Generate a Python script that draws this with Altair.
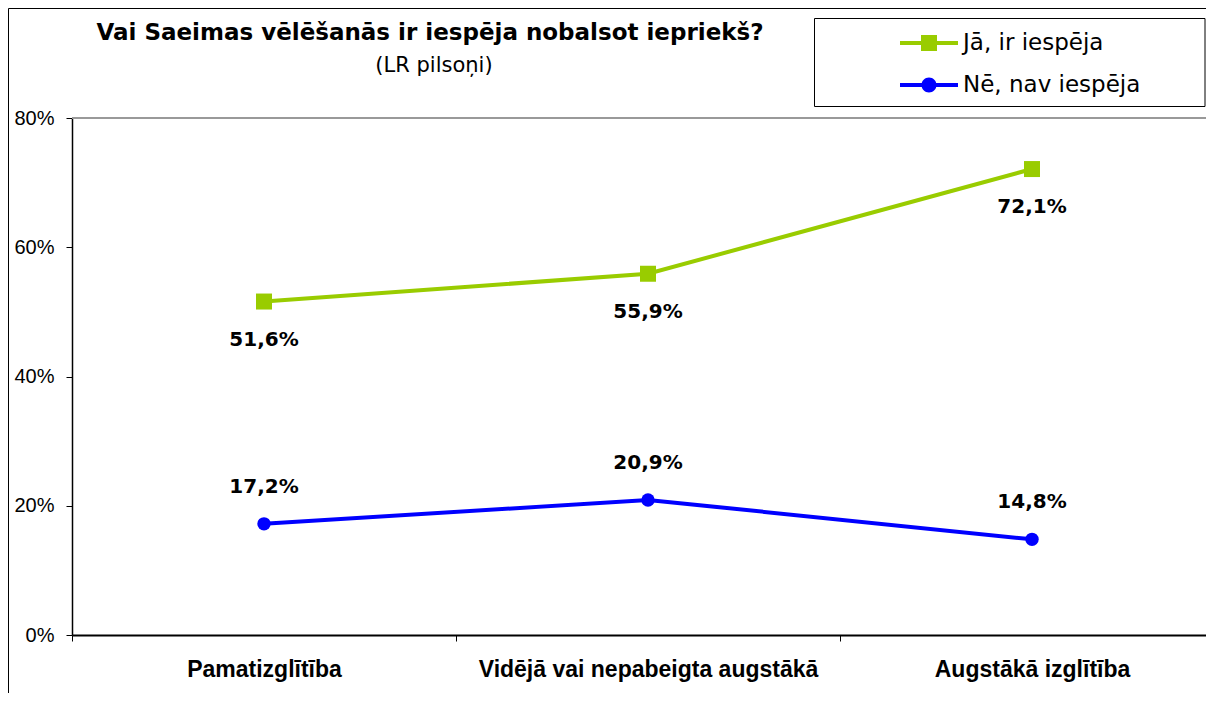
import altair as alt
import pandas as pd

categories = ["Pamatizglītība", "Vidējā vai nepabeigta augstākā", "Augstākā izglītība"]
series = ["Jā, ir iespēja", "Nē, nav iespēja"]
ja_values = [51.6, 55.9, 72.1]
ne_values = [17.2, 20.9, 14.8]
colors = ["#99CC00", "#0000FF"]
marker_shapes = ["square", "circle"]
marker_sizes = [256, 180]
label_dy = [38, -37]
y_ticks = [0, 20, 40, 60, 80]
title_text = "Vai Saeimas vēlēšanās ir iespēja nobalsot iepriekš?"
subtitle_text = "(LR pilsoņi)"

ARIAL = "Liberation Sans"
WIDE = "DejaVu Sans"

rows = []
for s, vals in zip(series, [ja_values, ne_values]):
    for c, v in zip(categories, vals):
        rows.append({"cat": c, "series": s, "value": v,
                     "label": f"{v:.1f}%".replace(".", ",")})
df = pd.DataFrame(rows)
one = pd.DataFrame({"d": [0]})

W, H = 1134, 517
XR = 1152  # x range (plot runs on past the right edge of the page)

x_enc = alt.X("cat:N", sort=categories,
              scale=alt.Scale(type="band", paddingInner=0, paddingOuter=0, range=[0, XR]),
              axis=alt.Axis(title=None, labelAngle=0, tickBand="extent", labelLimit=600,
                            labelFont=ARIAL, labelFontSize=23, labelFontWeight="bold",
                            labelColor="black", labelPadding=17, tickSize=6,
                            tickColor="black", domainColor="black", domainWidth=2,
                            grid=False))
y_enc = alt.Y("value:Q", scale=alt.Scale(domain=[0, 80], nice=False),
              axis=alt.Axis(title=None, values=y_ticks, labelExpr="datum.value + '%'",
                            labelFont=ARIAL, labelFontSize=20, labelColor="black",
                            labelPadding=12, tickSize=6, tickColor="black",
                            domainColor="black", domainWidth=1.5, grid=False))

sq_path = ("M-1.45,-0.1H-0.3V0.1H-1.45Z M0.3,-0.1H1.45V0.1H0.3Z "
           "M-0.4,-0.4H0.4V0.4H-0.4Z")
ci_path = ("M-1.45,-0.1H-0.3V0.1H-1.45Z M0.3,-0.1H1.45V0.1H0.3Z "
           "M-0.375,0A0.375,0.375 0 1,1 0.375,0A0.375,0.375 0 1,1 -0.375,0Z")

base = alt.Chart(df)

# decorations
outer_top = alt.Chart(one).mark_rule(color="black", strokeWidth=1).encode(
    x=alt.value(-63.5), x2=alt.value(W), y=alt.value(-109.5))
outer_left = alt.Chart(one).mark_rule(color="black", strokeWidth=1).encode(
    x=alt.value(-63.5), y=alt.value(-109.5), y2=alt.value(H + 58))
top_line = alt.Chart(one).mark_rule(color="#999999", strokeWidth=2).encode(
    y=alt.datum(80))
legend_box = alt.Chart(one).mark_rect(fill="white", stroke="black", strokeWidth=1).encode(
    x=alt.value(742.5), x2=alt.value(W - 1), y=alt.value(-99.5), y2=alt.value(-11.5))
title = alt.Chart(one).mark_text(text=title_text, font=WIDE, fontSize=23,
                                 fontWeight="bold", color="black").encode(
    x=alt.value(358), y=alt.value(-85))
subtitle = alt.Chart(one).mark_text(text=subtitle_text, font=WIDE, fontSize=21,
                                    color="black").encode(
    x=alt.value(362), y=alt.value(-52))

layers = [outer_top, outer_left, top_line, legend_box, title, subtitle]

for i, s in enumerate(series):
    sub = base.transform_filter(alt.datum.series == s)
    layers.append(sub.mark_line(strokeWidth=4, color=colors[i]).encode(x=x_enc, y=y_enc))
    layers.append(sub.mark_point(shape=marker_shapes[i], size=marker_sizes[i],
                                 filled=True, opacity=1, color=colors[i])
                  .encode(x=x_enc, y=y_enc))
    layers.append(sub.mark_text(font=WIDE, fontSize=20, fontWeight="bold",
                                color="black", dy=label_dy[i])
                  .encode(x=x_enc, y=y_enc, text="label:N"))

leg = alt.Legend(orient="none", legendX=837, legendY=-95, padding=0,
                 labelFont=WIDE, labelFontSize=23, labelColor="black", labelLimit=400,
                 labelOffset=14, rowPadding=10, symbolSize=1600,
                 symbolStrokeWidth=0, symbolOpacity=1, title=None)
legend_layer = base.mark_point(filled=True, opacity=0).encode(
    x=x_enc, y=y_enc,
    color=alt.Color("series:N", scale=alt.Scale(domain=series, range=colors), legend=leg),
    shape=alt.Shape("series:N", scale=alt.Scale(domain=series, range=[sq_path, ci_path]),
                    legend=leg))
layers.append(legend_layer)

chart = alt.layer(*layers).properties(
    width=W, height=H, autosize="none",
    padding={"left": 64, "top": 110, "right": 0, "bottom": 58}
).configure_view(stroke=None).configure(background="white")

chart.save("out.html", embed_options={"renderer": "svg", "actions": False})
